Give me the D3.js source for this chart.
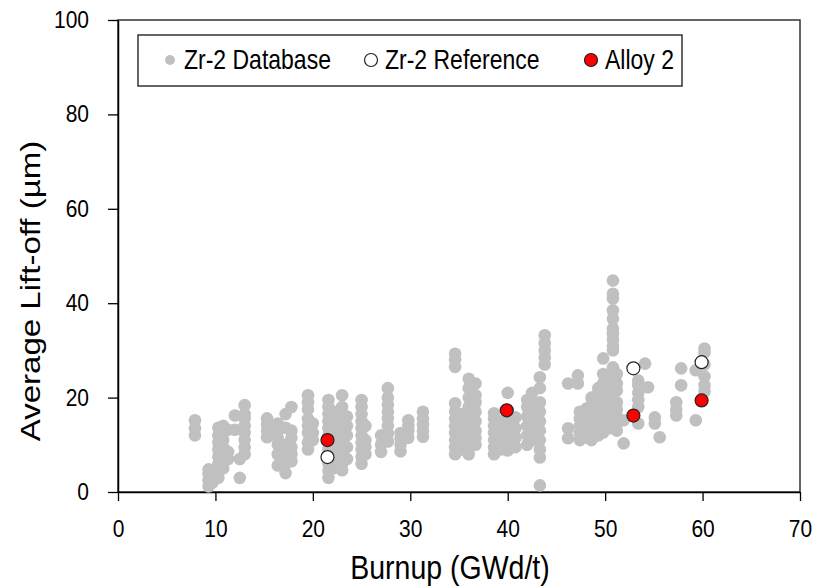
<!DOCTYPE html>
<html>
<head>
<meta charset="utf-8">
<script src="https://cdn.jsdelivr.net/npm/d3@7"></script>
<style>
body { margin: 0; background: #fff; }
text { font-family: "Liberation Sans", Arial, sans-serif; fill: #000; }
</style>
</head>
<body>
<div id="chart"></div>
<script>

var width = 816,
  height = 586;

// axis ticks
var xTicks = [0, 10, 20, 30, 40, 50, 60, 70];
var yTicks = [0, 20, 40, 60, 80, 100];

// Zr-2 database, read column by column: [burnup, [lift-off values]]
var dbColumns = [
  [7.9, [12, 13.5, 15.2]],
  [9.3, [1.2, 2.5, 3.8, 4.8]],
  [9.7, [2, 3.5]],
  [10.3, [3, 4.5, 6, 7.5, 9, 10.5, 12, 13.6]],
  [10.8, [5, 6.5, 8, 9.5, 11, 12.5, 14]],
  [11.3, [7, 8.5, 13.2]],
  [12, [13.2, 16.2]],
  [12.5, [3, 7]],
  [13, [8, 9.5, 11, 12.5, 14, 15.6, 16.5, 18.4]],
  [15.3, [11.6, 13, 14.3, 15.6]],
  [16.4, [5.6, 8, 10, 11.5, 13, 14.5]],
  [17.2, [4, 6, 8.5, 10, 13.6, 16.5]],
  [17.8, [6.5, 8, 9.5, 11.5, 13, 18]],
  [19.5, [9, 10.5, 12.5, 14, 15.5, 17.5, 19, 20.5]],
  [20, [11, 12.5, 14.5]],
  [21.6, [3, 4.5, 6, 7.5, 9, 10.5, 12, 13.5, 15, 16.5, 18, 19.5]],
  [22.1, [5, 7, 9, 11, 13, 15, 17]],
  [23, [4.6, 6, 7.5, 9, 10.5, 12, 13.5, 15, 16.5, 18, 20.5]],
  [23.5, [7, 9.5, 12, 14, 16]],
  [25, [6, 7.5, 9, 10.5, 12, 13.5, 15, 16.5, 18, 19.5]],
  [25.4, [8, 9.6, 11, 14]],
  [27, [8.5, 10, 12]],
  [27.7, [10.7, 12.4, 14, 15.6, 17, 18.5, 20, 22]],
  [29, [8.6, 10, 11.3, 12.5]],
  [29.8, [11.5, 13, 14, 15.2]],
  [31.3, [11.7, 13, 14.2, 15.5, 17]],
  [34.6, [8, 9.5, 11, 12.5, 14, 15.5, 17, 18.8, 26.5, 28, 29.3]],
  [35.3, [9, 10.5, 12, 13.5, 15, 16.5]],
  [36, [8, 10, 12, 14, 16, 18, 20, 22, 24]],
  [36.7, [10, 11.5, 13, 15, 17, 19, 20.5, 23]],
  [38.6, [8, 9.5, 11, 12.5, 14, 15.5, 16.7]],
  [39.3, [9, 11, 13, 15]],
  [40, [8.8, 10.5, 12, 13.5, 15, 21]],
  [40.8, [9.5, 11.5, 13.5, 15.8]],
  [42, [10, 12, 14, 16, 18, 19.5]],
  [42.5, [11, 13, 15, 17, 19, 21]],
  [43.3, [1.4, 7.3, 9, 11, 13, 15, 17, 19, 22, 24.3]],
  [43.8, [27, 28.5, 30, 31.5, 33.2]],
  [46.2, [11.4, 13.5, 23]],
  [47.2, [23, 24.7]],
  [47.4, [11, 12.5, 14, 15.5, 17]],
  [48.1, [11.5, 13, 14.5, 16, 17.7]],
  [48.6, [11, 12.5, 14, 15.5, 17, 18.5, 20]],
  [49.3, [12, 13.5, 15, 16.5, 18, 19.5, 21, 22]],
  [49.8, [12.6, 14, 15.5, 17, 18.5, 20, 21.5, 23, 25, 28.3]],
  [50.4, [13.5, 15, 16.5, 18, 19.5, 21, 22.5, 24]],
  [50.8, [26.4, 30, 31, 32.3, 33.5, 34.6, 36.7, 38.5, 41, 42, 44.8]],
  [51.2, [13, 14.5, 16, 17.5, 19, 21.5, 23, 25]],
  [51.9, [10.3, 15.2]],
  [53.4, [14.5, 18, 19.5, 21, 22.6, 23.6]],
  [54.1, [27.2]],
  [54.4, [22.2]],
  [55.1, [14.5, 15.8]],
  [55.6, [11.6]],
  [57.3, [16.2, 17.5, 19]],
  [57.8, [22.6, 26.2]],
  [59.3, [15.2, 25.8]],
  [60.2, [21.3, 22.6, 24.5, 27, 29.6, 30.4]]
];

// Zr-2 reference
var refBurnup = [21.5, 52.9, 59.9];
var refLift = [7.4, 26.2, 27.5];

// Alloy 2
var alloyBurnup = [21.5, 39.9, 52.9, 59.9];
var alloyLift = [11, 17.3, 16.2, 19.4];

var legendLabels = ["Zr-2 Database", "Zr-2 Reference", "Alloy 2"];

var stretch = 1.18; // the text in the picture is a bit taller than wide

var svg = d3.select("#chart").append("svg")
  .attr("width", width)
  .attr("height", height);

var x = d3.scaleLinear().domain([0, 70]).range([118, 800]);
var y = d3.scaleLinear().domain([0, 100]).range([492, 20]);

var dbPoints = [];
dbColumns.forEach(function(c){
  c[1].forEach(function(v){ dbPoints.push({bu: c[0], lo: v}) })
});

// frame (top and right)
svg.append("rect")
  .attr("x", 118).attr("y", 20)
  .attr("width", 682).attr("height", 472)
  .attr("fill", "none")
  .attr("stroke", "#333")
  .attr("stroke-width", 1.5);

// axes
var xAxis = svg.append("g")
  .attr("transform", "translate(0,492)")
  .call(d3.axisBottom(x).tickValues(xTicks).tickSize(9).tickSizeOuter(0));

var yAxis = svg.append("g")
  .attr("transform", "translate(118,0)")
  .call(d3.axisLeft(y).tickValues(yTicks).tickSize(10).tickSizeOuter(0));

[xAxis, yAxis].forEach(function(a){
  a.select(".domain").attr("stroke", "#000").attr("stroke-width", 1.5);
  a.selectAll(".tick line").attr("stroke", "#000").attr("stroke-width", 1.3);
  a.selectAll(".tick text").attr("font-size", 21).attr("fill", "#000")
    .style("font-family", "'Liberation Sans', Arial, sans-serif");
});

xAxis.selectAll(".tick text")
  .attr("y", 0).attr("dy", 0)
  .attr("transform", "translate(0,45) scale(1," + stretch + ")");

yAxis.selectAll(".tick text")
  .attr("x", 0).attr("dy", 0)
  .attr("transform", "translate(-29,7.5) scale(1," + stretch + ")");

// axis titles
svg.append("text")
  .attr("text-anchor", "middle")
  .attr("font-size", 28.5)
  .attr("transform", "translate(450,579) scale(1," + stretch + ")")
  .text("Burnup (GWd/t)");

svg.append("text")
  .attr("text-anchor", "middle")
  .attr("font-size", 28)
  .attr("transform", "translate(40,291) scale(1," + stretch + ") rotate(-90)")
  .text("Average Lift-off (\u00b5m)");

// points
var plot = svg.append("g");

plot.selectAll("circle.db")
  .data(dbPoints)
  .enter().append("circle")
  .attr("class", "db")
  .attr("cx", function(d){ return x(d.bu) })
  .attr("cy", function(d){ return y(d.lo) })
  .attr("r", 6.3)
  .attr("fill", "#c0c0c0");

plot.selectAll("circle.ref")
  .data(refBurnup)
  .enter().append("circle")
  .attr("class", "ref")
  .attr("cx", function(d){ return x(d) })
  .attr("cy", function(d, i){ return y(refLift[i]) })
  .attr("r", 6.5)
  .attr("fill", "#fff")
  .attr("stroke", "#222")
  .attr("stroke-width", 1.2);

plot.selectAll("circle.alloy")
  .data(alloyBurnup)
  .enter().append("circle")
  .attr("class", "alloy")
  .attr("cx", function(d){ return x(d) })
  .attr("cy", function(d, i){ return y(alloyLift[i]) })
  .attr("r", 6.5)
  .attr("fill", "#ff0000")
  .attr("stroke", "#222")
  .attr("stroke-width", 1.2);

// legend
var legend = svg.append("g");
legend.append("rect")
  .attr("x", 138).attr("y", 35)
  .attr("width", 544).attr("height", 51)
  .attr("fill", "#fff")
  .attr("stroke", "#333")
  .attr("stroke-width", 1.5);

var legX = [170, 371, 591];
var legStyle = [
  {fill: "#c0c0c0", stroke: "none", r: 5},
  {fill: "#fff", stroke: "#222", r: 6.5},
  {fill: "#ff0000", stroke: "#222", r: 6.5}
];

legendLabels.forEach(function(l, i){
  legend.append("circle")
    .attr("cx", legX[i]).attr("cy", 60)
    .attr("r", legStyle[i].r)
    .attr("fill", legStyle[i].fill)
    .attr("stroke", legStyle[i].stroke)
    .attr("stroke-width", 1.2);
  legend.append("text")
    .attr("font-size", 23)
    .attr("transform", "translate(" + (legX[i] + 14) + ",69) scale(1," + stretch + ")")
    .text(l);
});

</script>
</body>
</html>
